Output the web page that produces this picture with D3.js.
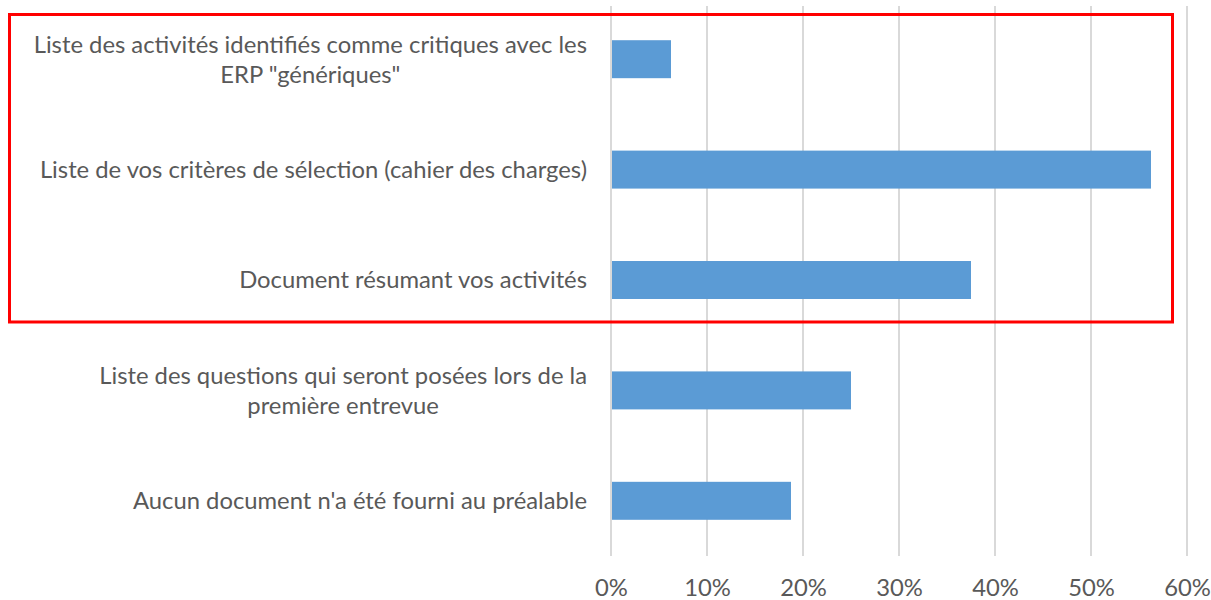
<!DOCTYPE html>
<html><head><meta charset="utf-8">
<script src="https://cdn.jsdelivr.net/npm/d3@7"></script>
<style>body{margin:0;background:#fff}svg{display:block}</style>
</head><body>
<svg id="c" width="1211" height="600"></svg>
<script>
const categories = [
  "Liste des activités identifiés comme critiques avec les\nERP \"génériques\"",
  "Liste de vos critères de sélection (cahier des charges)",
  "Document résumant vos activités",
  "Liste des questions qui seront posées lors de la\npremière entrevue",
  "Aucun document n'a été fourni au préalable"
];
const values = [0.0625, 0.5625, 0.375, 0.25, 0.1875];
const tickValues = [0, 0.1, 0.2, 0.3, 0.4, 0.5, 0.6];
const highlighted = [0, 1, 2];

const svg = d3.select("#c");
const font = "Lato, 'Liberation Sans', Arial, sans-serif";
const fs = 23.8;
const x = d3.scaleLinear().domain([0, 0.6]).range([611, 1187]);
const y = d3.scaleBand().domain(categories).range([4, 556]).paddingInner(0.656).paddingOuter(0.328);

// gridlines
svg.append("g").selectAll("line").data(tickValues).join("line")
  .attr("x1", d => x(d)).attr("x2", d => x(d))
  .attr("y1", 6).attr("y2", 556)
  .attr("stroke", "#d9d9d9").attr("stroke-width", 2);

// bars
svg.append("g").selectAll("rect").data(categories).join("rect")
  .attr("x", x(0) + 1).attr("y", d => y(d))
  .attr("width", (d, i) => x(values[i]) - x(0) - 1)
  .attr("height", y.bandwidth())
  .attr("fill", "#5b9bd5");

// x axis tick labels
const xAxis = d3.axisBottom(x).tickValues(tickValues).tickFormat(d3.format(".0%")).tickSize(0).tickPadding(0);
const gx = svg.append("g").attr("transform", "translate(0,579)").call(xAxis);
gx.select(".domain").remove();
gx.selectAll("text").attr("font-family", font).attr("font-size", fs).attr("fill", "#595959");

// category labels
const lh = 30;
const gl = svg.append("g");
categories.forEach((c, i) => {
  const lines = c.split("\n");
  const cy = y(c) + y.bandwidth() / 2;
  const t = gl.append("text").attr("text-anchor", "middle")
    .attr("font-family", font).attr("font-size", fs).attr("fill", "#595959");
  lines.forEach((l, k) => {
    t.append("tspan").attr("x", 0).attr("y", cy + (k - (lines.length - 1) / 2) * lh).attr("dy", "0.35em").text(l);
  });
  const w = d3.max(t.selectAll("tspan").nodes(), n => n.getComputedTextLength());
  t.selectAll("tspan").attr("x", 587 - w / 2);
});

// highlight rectangle around first three categories
const lastHi = categories[highlighted[highlighted.length - 1]];
const rectBottom = y(lastHi) + y.bandwidth() + 23;
svg.append("rect").attr("x", 9.5).attr("y", 14.5).attr("width", 1163).attr("height", rectBottom - 14.5)
  .attr("fill", "none").attr("stroke", "#ff0000").attr("stroke-width", 3);
</script>
</body></html>
